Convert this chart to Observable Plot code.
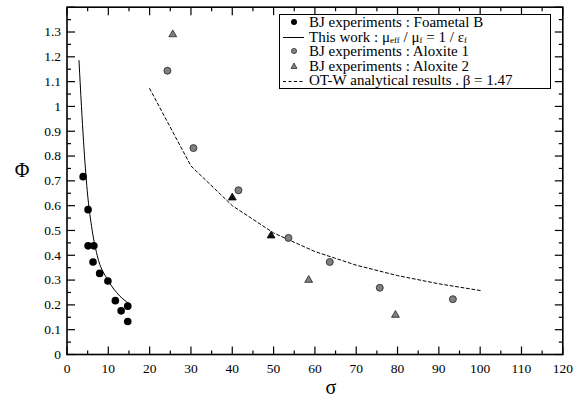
<!DOCTYPE html>
<html>
<head>
<meta charset="utf-8">
<script src="https://cdn.jsdelivr.net/npm/d3@7"></script>
<script src="https://cdn.jsdelivr.net/npm/@observablehq/plot@0.6"></script>
<style>
  html, body { margin: 0; padding: 0; background: #fff; }
  #wrap { position: relative; width: 583px; height: 398px; font-family: "Liberation Serif", "DejaVu Serif", "Times New Roman", serif; }
  #legend { position: absolute; left: 279px; top: 14px; width: 272px; height: 75px; box-sizing: border-box;
            border: 1px solid #000; background: #fff; font-size: 15px; line-height: 14.6px; padding-top: 0px; color: #000; }
  .row { display: flex; align-items: center; height: 14.6px; white-space: nowrap; }
  .row svg { width: 28px; height: 14px; flex: none; margin-right: 1px; }
  sub { font-size: 9px; vertical-align: -1px; line-height: 0; }
</style>
</head>
<body>
<div id="wrap"></div>
<script>
// ---- data ----
const foametalSigma = [3.9, 5.1, 5.1, 6.5, 6.3, 7.9, 9.9, 11.7, 13.1, 14.7, 14.7];
const foametalPhi   = [0.717, 0.584, 0.438, 0.438, 0.373, 0.327, 0.296, 0.217, 0.176, 0.195, 0.133];

const thisWorkSigma = [2.9, 3.5, 4.0, 4.9, 6.1, 7.3, 9.9, 12, 15];
const thisWorkPhi   = [1.185, 1.0, 0.86, 0.66, 0.5, 0.4, 0.3, 0.25, 0.205];

const aloxite1Sigma = [24.3, 30.6, 41.5, 53.6, 63.6, 75.7, 93.4];
const aloxite1Phi   = [1.144, 0.832, 0.662, 0.470, 0.373, 0.269, 0.223];

const aloxite2Sigma = [25.6, 58.5, 79.5];
const aloxite2Phi   = [1.29, 0.300, 0.159];
const aloxite2DarkSigma = [40.0, 49.4];
const aloxite2DarkPhi   = [0.632, 0.479];

const otwSigma = [20, 30, 40, 50, 60, 70, 80, 90, 100];
const otwPhi   = [1.072, 0.76, 0.60, 0.49, 0.415, 0.36, 0.318, 0.285, 0.258];

const xMajor = [0, 10, 20, 30, 40, 50, 60, 70, 80, 90, 100, 110, 120];
const xMinor = [5, 15, 25, 35, 45, 55, 65, 75, 85, 95, 105, 115];
const yMajor = [0, 0.1, 0.2, 0.3, 0.4, 0.5, 0.6, 0.7, 0.8, 0.9, 1, 1.1, 1.2, 1.3, 1.4];
const yMinor = [0.05, 0.15, 0.25, 0.35, 0.45, 0.55, 0.65, 0.75, 0.85, 0.95, 1.05, 1.15, 1.25, 1.35];
const yLabelled = [0, 0.1, 0.2, 0.3, 0.4, 0.5, 0.6, 0.7, 0.8, 0.9, 1, 1.1, 1.2, 1.3];

const zip = (xs, ys) => xs.map((x, i) => ({x, y: ys[i]}));
const foametal = zip(foametalSigma, foametalPhi);
const thisWork = zip(thisWorkSigma, thisWorkPhi);
const aloxite1 = zip(aloxite1Sigma, aloxite1Phi);
const aloxite2 = zip(aloxite2Sigma, aloxite2Phi);
const aloxite2Dark = zip(aloxite2DarkSigma, aloxite2DarkPhi);
const otw = zip(otwSigma, otwPhi);

const W = 583, H = 398, ML = 66.5, MR = 20.7, MT = 6.7, MB = 44;
const FW = W - ML - MR, FH = H - MT - MB;
const X0 = 0, X1 = 120, Y0 = 0, Y1 = 1.4;
// tick lengths (8px major, 4px minor) expressed through the scales
const majY = 8 * (Y1 - Y0) / FH, minY = 4 * (Y1 - Y0) / FH;
const majX = 8 * (X1 - X0) / FW, minX = 4 * (X1 - X0) / FW;

// inward tick segments on all four sides, built from the tick arrays
const seg = [];
for (const v of xMajor) { seg.push({x1: v, x2: v, y1: Y0, y2: Y0 + majY}, {x1: v, x2: v, y1: Y1 - majY, y2: Y1}); }
for (const v of xMinor) { seg.push({x1: v, x2: v, y1: Y0, y2: Y0 + minY}, {x1: v, x2: v, y1: Y1 - minY, y2: Y1}); }
for (const v of yMajor) { seg.push({x1: X0, x2: X0 + majX, y1: v, y2: v}, {x1: X1 - majX, x2: X1, y1: v, y2: v}); }
for (const v of yMinor) { seg.push({x1: X0, x2: X0 + minX, y1: v, y2: v}, {x1: X1 - minX, x2: X1, y1: v, y2: v}); }

const SERIF = "'Liberation Serif', 'DejaVu Serif', 'Times New Roman', serif";
const fmt = d => String(+d.toFixed(2));
const font = {fontFamily: SERIF, fontSize: 13.5, fill: "#000"};

const chart = Plot.plot({
  width: W,
  height: H,
  marginLeft: ML,
  marginRight: MR,
  marginTop: MT,
  marginBottom: MB,
  style: {fontFamily: SERIF, fontSize: "13.5px", color: "#000", background: "#fff"},
  x: {domain: [X0, X1]},
  y: {domain: [Y0, Y1]},
  marks: [
    Plot.frame({stroke: "#000", fill: "none", strokeWidth: 1.6}),
    Plot.axisX(xMajor, {anchor: "bottom", tickSize: 0, tickPadding: 9, tickFormat: fmt, label: null, ...font}),
    Plot.axisY(yLabelled, {anchor: "left", tickSize: 0, tickPadding: 6, tickFormat: fmt, label: null, ...font}),
    Plot.link(seg, {x1: "x1", y1: "y1", x2: "x2", y2: "y2", stroke: "#000", strokeWidth: 1.2}),
    Plot.text(["Φ"], {frameAnchor: "left", textAnchor: "middle", lineAnchor: "middle", dx: -45, dy: -10, fontSize: 20, fontFamily: SERIF, fill: "#000"}),
    Plot.text(["σ"], {frameAnchor: "bottom", textAnchor: "middle", lineAnchor: "middle", dx: 16, dy: 33, fontSize: 20, fontFamily: SERIF, fill: "#000"}),
    Plot.line(thisWork, {x: "x", y: "y", stroke: "#000", strokeWidth: 1, curve: "monotone-x"}),
    Plot.line(otw, {x: "x", y: "y", stroke: "#000", strokeWidth: 1, strokeDasharray: "3,2.5"}),
    Plot.dot(foametal, {x: "x", y: "y", r: 3.8, fill: "#000", stroke: "none", symbol: "circle"}),
    Plot.dot(aloxite1, {x: "x", y: "y", r: 3.5, fill: "#808080", stroke: "#222", strokeWidth: 0.8, symbol: "circle"}),
    Plot.dot(aloxite2, {x: "x", y: "y", r: 2.9, fill: "#808080", stroke: "#222", strokeWidth: 0.8, symbol: "triangle"}),
    Plot.dot(aloxite2Dark, {x: "x", y: "y", r: 2.9, fill: "#111", stroke: "#000", strokeWidth: 0.8, symbol: "triangle"})
  ]
});

const wrap = document.getElementById("wrap");
wrap.appendChild(chart);

const legendItems = [
  {sym: '<circle cx="14" cy="7" r="3" fill="#000"/>', text: 'BJ experiments : Foametal B'},
  {sym: '<line x1="3" x2="24" y1="7.5" y2="7.5" stroke="#000" stroke-width="1"/>', text: 'This work : μ<sub>eff</sub> / μ<sub>f</sub> = 1 / ε<sub>f</sub>'},
  {sym: '<circle cx="14" cy="7" r="2.6" fill="#808080" stroke="#222" stroke-width="0.7"/>', text: 'BJ experiments : Aloxite 1'},
  {sym: '<path d="M14,4 L17,9.5 L11,9.5 Z" fill="#808080" stroke="#222" stroke-width="0.7"/>', text: 'BJ experiments : Aloxite 2'},
  {sym: '<line x1="3" x2="24" y1="7.5" y2="7.5" stroke="#000" stroke-width="1" stroke-dasharray="3,2.5"/>', text: 'OT-W analytical results . β = 1.47'}
];
const legend = document.createElement("div");
legend.id = "legend";
legend.innerHTML = legendItems.map(d =>
  `<div class="row"><svg viewBox="0 0 28 14">${d.sym}</svg><span>${d.text}</span></div>`).join("");
wrap.appendChild(legend);
</script>
</body>
</html>
